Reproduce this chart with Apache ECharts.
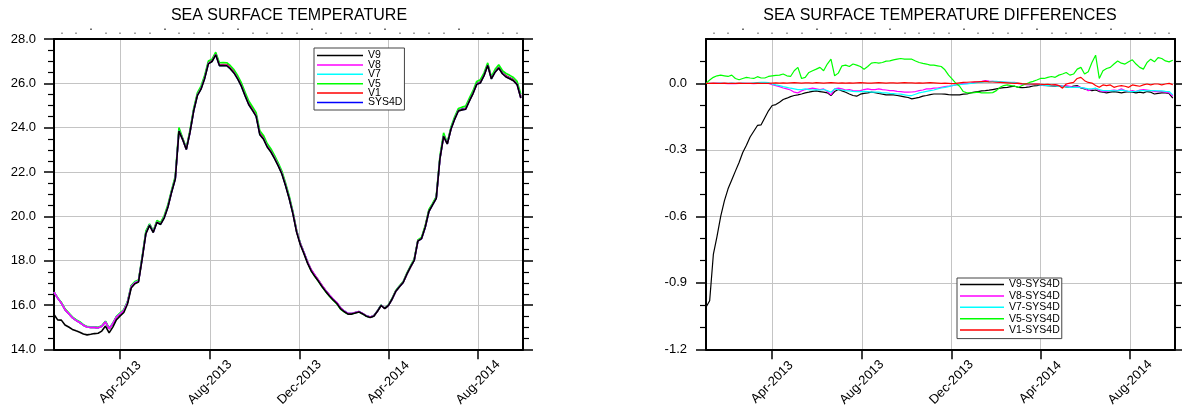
<!DOCTYPE html>
<html><head><meta charset="utf-8">
<script src="https://cdn.jsdelivr.net/npm/echarts@6/dist/echarts.min.js"></script>
<style>html,body{margin:0;padding:0;background:#fff}#c{width:1182px;height:409px}</style>
</head><body><div id="c"></div>
<script>
// ---------- data ----------
const START = '2013-01-01';
const END = '2014-10-01';
const STEP_DAYS = 5;
const tickDates = ['2013-04-01', '2013-08-01', '2013-12-01', '2014-04-01', '2014-08-01'];
const monthNames = ['Jan','Feb','Mar','Apr','May','Jun','Jul','Aug','Sep','Oct','Nov','Dec'];
const diffYLabels = [-1.2, -0.9, -0.6, -0.3, 0.0];
const diffYMinor = [-1.1, -1.0, -0.8, -0.7, -0.5, -0.4, -0.2, -0.1, 0.1];
const topMinorDays = [10,30,70,90,110,130,170,190,210,230,270,290,310,330,370,390,410,430,470,490,510,530,570,590,610,630];
const topMajorDays = [50,150,250,350,450,550];

const sys4d = [
16.58,16.31,16.09,15.79,15.61,15.43,15.31,15.21,
15.09,15.01,14.99,14.99,14.97,15.04,15.24,14.93,
15.16,15.46,15.61,15.76,16.13,16.84,17.03,17.10,
18.15,19.27,19.64,19.31,19.76,19.67,19.97,20.46,
21.13,21.73,23.90,23.50,23.04,23.82,24.79,25.49,
25.79,26.28,26.93,27.03,27.33,26.84,26.84,26.84,
26.70,26.51,26.24,25.91,25.49,25.09,24.84,24.57,
23.75,23.55,23.19,22.96,22.66,22.33,21.96,21.43,
20.84,20.16,19.34,18.78,18.37,17.93,17.58,17.33,
17.10,16.85,16.63,16.43,16.25,16.09,15.85,15.72,
15.61,15.61,15.66,15.70,15.61,15.51,15.46,15.51,
15.73,15.99,15.85,15.99,16.28,16.63,16.84,17.03,
17.40,17.73,18.03,18.90,19.01,19.52,20.24,20.54,
20.84,22.63,23.64,23.30,23.97,24.42,24.79,24.84,
24.87,25.24,25.58,25.99,26.06,26.39,26.85,26.24,
26.54,26.73,26.48,26.33,26.25,26.16,25.99,25.40];

const dV9 = [
-1.010,-0.981,-0.772,-0.690,-0.600,-0.530,-0.476,-0.436,
-0.396,-0.357,-0.312,-0.279,-0.242,-0.216,-0.190,-0.187,
-0.155,-0.124,-0.100,-0.096,-0.085,-0.073,-0.067,-0.060,
-0.055,-0.052,-0.048,-0.043,-0.040,-0.036,-0.034,-0.037,
-0.040,-0.043,-0.055,-0.037,-0.028,-0.034,-0.040,-0.048,
-0.055,-0.058,-0.049,-0.045,-0.043,-0.040,-0.042,-0.046,
-0.049,-0.052,-0.052,-0.052,-0.055,-0.058,-0.061,-0.064,
-0.070,-0.067,-0.063,-0.058,-0.055,-0.051,-0.048,-0.048,
-0.048,-0.049,-0.051,-0.052,-0.052,-0.052,-0.049,-0.048,
-0.043,-0.040,-0.037,-0.034,-0.033,-0.031,-0.028,-0.025,
-0.022,-0.019,-0.018,-0.015,-0.013,-0.018,-0.019,-0.018,
-0.016,-0.012,-0.010,-0.007,-0.009,-0.010,-0.012,-0.013,
-0.010,-0.013,-0.016,-0.018,-0.012,-0.010,-0.021,-0.025,
-0.030,-0.033,-0.030,-0.037,-0.040,-0.043,-0.040,-0.037,
-0.040,-0.043,-0.040,-0.037,-0.040,-0.043,-0.040,-0.043,
-0.037,-0.040,-0.048,-0.045,-0.043,-0.043,-0.046,-0.067];

const dV8 = [
0,0,0,0.001,0,0,-0.001,0,
-0.001,0,0,0,0,-0.001,0,0,
0.001,0,-0.006,-0.010,-0.015,-0.021,-0.025,-0.030,
-0.040,-0.043,-0.034,-0.028,-0.025,-0.022,-0.025,-0.028,
-0.025,-0.037,-0.052,-0.025,-0.022,-0.025,-0.030,-0.028,
-0.033,-0.034,-0.033,-0.028,-0.025,-0.028,-0.028,-0.025,
-0.028,-0.030,-0.033,-0.033,-0.036,-0.037,-0.040,-0.040,
-0.039,-0.037,-0.033,-0.030,-0.025,-0.025,-0.022,-0.021,
-0.018,-0.015,-0.013,-0.010,-0.007,-0.004,-0.001,0.000,
0.001,0.004,0.007,0.009,0.012,0.010,0.009,0.007,
0.007,0.004,0.004,0.003,0.004,-0.001,-0.004,-0.006,
-0.007,-0.004,-0.003,-0.007,-0.010,-0.007,-0.010,-0.007,
-0.010,-0.013,-0.010,-0.013,-0.018,-0.013,-0.018,-0.022,
-0.033,-0.028,-0.022,-0.033,-0.037,-0.037,-0.033,-0.030,
-0.033,-0.025,-0.033,-0.037,-0.033,-0.037,-0.030,-0.028,
-0.030,-0.033,-0.037,-0.036,-0.037,-0.040,-0.043,-0.058];

const dV7 = [
0,0,0,0,0.001,0,0,0.001,
0,0,0.001,0,0,0.002,0.003,0.004,
0.004,0.003,-0.003,-0.007,-0.010,-0.015,-0.018,-0.022,
-0.025,-0.028,-0.028,-0.025,-0.028,-0.030,-0.028,-0.030,
-0.028,-0.033,-0.040,-0.025,-0.028,-0.030,-0.033,-0.034,
-0.036,-0.037,-0.037,-0.036,-0.037,-0.040,-0.040,-0.040,
-0.043,-0.043,-0.045,-0.046,-0.048,-0.049,-0.052,-0.055,
-0.055,-0.049,-0.043,-0.040,-0.036,-0.033,-0.030,-0.025,
-0.021,-0.018,-0.015,-0.010,-0.007,-0.006,-0.004,-0.003,
0.000,0.001,0.004,0.004,0.007,0.007,0.009,0.009,
0.007,0.007,0.004,0.004,0.003,0.000,-0.001,-0.003,
-0.004,-0.004,-0.006,-0.007,-0.009,-0.010,-0.010,-0.012,
-0.013,-0.013,-0.016,-0.018,-0.018,-0.018,-0.019,-0.022,
-0.025,-0.025,-0.022,-0.028,-0.033,-0.033,-0.033,-0.034,
-0.033,-0.031,-0.033,-0.036,-0.037,-0.036,-0.033,-0.033,
-0.034,-0.033,-0.033,-0.034,-0.034,-0.036,-0.037,-0.052];

const dV5 = [
0.000,0.015,0.027,0.034,0.037,0.034,0.031,0.037,
0.022,0.016,0.022,0.027,0.024,0.022,0.030,0.024,
0.024,0.031,0.034,0.036,0.037,0.042,0.034,0.031,
0.057,0.072,0.022,0.027,0.049,0.057,0.064,0.072,
0.057,0.087,0.109,0.034,0.046,0.079,0.082,0.076,
0.087,0.082,0.076,0.064,0.076,0.091,0.094,0.091,
0.094,0.100,0.101,0.106,0.109,0.112,0.109,0.109,
0.109,0.101,0.094,0.090,0.087,0.082,0.082,0.079,
0.076,0.061,0.037,0.019,0.000,-0.013,-0.037,-0.043,
-0.043,-0.042,-0.040,-0.043,-0.043,-0.043,-0.042,-0.033,
-0.018,-0.010,-0.007,-0.010,-0.013,-0.018,-0.010,-0.003,
0.004,0.009,0.015,0.022,0.022,0.027,0.031,0.027,
0.037,0.042,0.049,0.037,0.042,0.064,0.072,0.042,
0.052,0.094,0.127,0.022,0.057,0.067,0.072,0.087,
0.101,0.091,0.087,0.097,0.106,0.087,0.072,0.064,
0.094,0.109,0.097,0.116,0.112,0.101,0.097,0.104];

const dV1 = [
0,0,0.001,0,0,0.001,0,0,
0,0.001,0,0,0,0,0.001,0,
0,0,0.001,0.002,0.001,0.002,0.001,0.002,
0.003,0.002,0.001,0.002,0.002,0.001,0.003,0.002,
0.001,0.002,0.003,0.002,0.001,0.002,0.001,0.002,
0.001,0.002,0.003,0.002,0.001,0.001,0.002,0.003,
0.002,0.001,0.002,0.002,0.001,0.002,0.003,0.002,
0.002,0.001,0.002,0.001,0.002,0.003,0.002,0.001,
0.000,0.001,0.000,-0.001,0.000,0.002,0.004,0.005,
0.006,0.007,0.007,0.008,0.009,0.007,0.006,0.005,
0.004,0.003,0.002,0.001,0.000,0.001,-0.001,-0.002,
-0.003,-0.004,-0.003,-0.004,-0.006,-0.004,-0.007,-0.006,
-0.010,-0.022,-0.003,0.001,0.004,0.022,0.027,0.012,
0.004,0.001,-0.010,-0.018,-0.007,-0.010,-0.007,-0.018,
-0.013,-0.010,-0.013,-0.018,-0.007,-0.010,-0.013,-0.007,
-0.003,-0.007,-0.003,-0.003,-0.007,-0.003,0.000,-0.006];

// ---------- build ----------
const DAY = 86400000;
const toT = s => Date.parse(s + 'T00:00:00Z');
const tMin = toT(START), tMax = toT(END);
const totalDays = (tMax - tMin) / DAY;
const tickTimes = tickDates.map(toT);
const times = sys4d.map((_, i) => tMin + i * STEP_DAYS * DAY);
const FONT = "'Liberation Sans', Arial, Helvetica, sans-serif";
const fmtDate = v => { const d = new Date(v); return monthNames[d.getUTCMonth()] + '-' + d.getUTCFullYear(); };
const pairs = arr => arr.map((v, i) => [times[i], v]);
const addTo = d => sys4d.map((v, i) => +(v + d[i]).toFixed(3));

const colors = { V9: '#000000', V8: '#ff00ff', V7: '#00ffff', V5: '#00ff00', V1: '#ff0000', SYS4D: '#0000ff' };
const leftValues = { V9: addTo(dV9), V8: addTo(dV8), V7: addTo(dV7), V5: addTo(dV5), V1: addTo(dV1), SYS4D: sys4d };
const rightValues = { 'V9-SYS4D': dV9, 'V8-SYS4D': dV8, 'V7-SYS4D': dV7, 'V5-SYS4D': dV5, 'V1-SYS4D': dV1 };

const black = { color: '#000', width: 2 };
function bottomX(g) {
  return { type: 'value', gridIndex: g, position: 'bottom', min: tMin, max: tMax,
    axisLine: { show: true, onZero: false, lineStyle: black },
    axisTick: { show: true, inside: false, length: 10, customValues: tickTimes, lineStyle: { color: '#000', width: 1.5 } },
    axisLabel: { show: true, customValues: tickTimes, rotate: 45, align: 'center', verticalAlign: 'middle', margin: 33,
      formatter: fmtDate, fontSize: 13, color: '#000', fontFamily: FONT },
    splitLine: { show: true, lineStyle: { color: '#c4c4c4', width: 1 } } };
}
function topFrame(g) {
  return { type: 'value', gridIndex: g, position: 'top', min: tMin, max: tMax,
    axisLine: { show: true, onZero: false, lineStyle: black },
    axisTick: { show: false }, axisLabel: { show: false }, splitLine: { show: false } };
}
function topDots(g, days, offset, color) {
  return { type: 'value', gridIndex: g, position: 'top', offset: offset, min: 0, max: totalDays,
    axisLine: { show: false, onZero: false },
    axisTick: { show: true, inside: false, length: 1.5, customValues: days, lineStyle: { color: color, width: 1.5 } },
    axisLabel: { show: false }, splitLine: { show: false } };
}
function yAx(g, pos, o) {
  return Object.assign({ type: 'value', gridIndex: g, position: pos,
    axisLine: { show: true, onZero: false, lineStyle: black },
    axisLabel: { show: false }, splitLine: { show: false } }, o);
}
const majorTick = { show: true, inside: false, length: 10, lineStyle: { color: '#000', width: 1.5 } };
const minorTickS = { show: true, inside: false, length: 6, lineStyle: { color: '#000', width: 1.2 } };
const labelStyle = { show: true, fontSize: 13, color: '#000', fontFamily: FONT, margin: 18 };
const gridStyle = { show: true, lineStyle: { color: '#c4c4c4', width: 1 } };

const series = [];
['SYS4D', 'V1', 'V5', 'V7', 'V8', 'V9'].forEach(n => series.push({
  type: 'line', name: n, xAxisIndex: 0, yAxisIndex: 0, data: pairs(leftValues[n]),
  showSymbol: false, symbol: 'none', animation: false, silent: true,
  lineStyle: { color: colors[n], width: 1.6 }, itemStyle: { color: colors[n] } }));
Object.keys(rightValues).forEach(n => {
  const c = colors[n.split('-')[0]];
  series.push({ type: 'line', name: n, xAxisIndex: 4, yAxisIndex: 2, data: pairs(rightValues[n]),
    showSymbol: false, symbol: 'none', animation: false, silent: true,
    lineStyle: { color: c, width: 1.2 }, itemStyle: { color: c } });
});

const legendBase = { orient: 'vertical', icon: 'rect', itemHeight: 1.5,
  backgroundColor: '#fff', borderColor: '#444', borderWidth: 1, selectedMode: false };

const option = {
  backgroundColor: '#fff',
  animation: false,
  title: [
    { text: 'SEA SURFACE TEMPERATURE', left: 289, top: 8, textAlign: 'center', padding: 0,
      textStyle: { fontSize: 16, fontWeight: 'normal', color: '#000', fontFamily: FONT } },
    { text: 'SEA SURFACE TEMPERATURE DIFFERENCES', left: 940, top: 8, textAlign: 'center', padding: 0,
      textStyle: { fontSize: 16, fontWeight: 'normal', color: '#000', fontFamily: FONT } }
  ],
  legend: [
    Object.assign({}, legendBase, { data: ['V9', 'V8', 'V7', 'V5', 'V1', 'SYS4D'], left: 314, top: 48,
      padding: [2, 2, 2, 3], itemWidth: 46, itemGap: -1.6,
      textStyle: { fontSize: 10.5, color: '#000', fontFamily: FONT } }),
    Object.assign({}, legendBase, { data: Object.keys(rightValues), left: 957, top: 278,
      padding: [1, 2, 3, 3], itemWidth: 44, itemGap: 0.4,
      textStyle: { fontSize: 10.5, color: '#000', fontFamily: FONT } })
  ],
  grid: [
    { left: 54, top: 39, width: 469, height: 312, containLabel: false },
    { left: 706, top: 39, width: 469, height: 312, containLabel: false }
  ],
  xAxis: [
    bottomX(0), topFrame(0), topDots(0, topMinorDays, 5, '#888'), topDots(0, topMajorDays, 9, '#444'),
    bottomX(1), topFrame(1), topDots(1, topMinorDays, 5, '#888'), topDots(1, topMajorDays, 9, '#444')
  ],
  yAxis: [
    yAx(0, 'left', { min: 14, max: 28, interval: 2, axisTick: majorTick,
      minorTick: Object.assign({ splitNumber: 4 }, minorTickS),
      axisLabel: Object.assign({ formatter: v => v.toFixed(1) }, labelStyle), splitLine: gridStyle }),
    yAx(0, 'right', { min: 14, max: 28, interval: 2, axisTick: majorTick,
      minorTick: Object.assign({ splitNumber: 4 }, minorTickS) }),
    yAx(1, 'left', { min: -1.2, max: 0.2,
      axisTick: Object.assign({ customValues: diffYLabels }, majorTick),
      axisLabel: Object.assign({ customValues: diffYLabels, formatter: v => v.toFixed(1) }, labelStyle, { margin: 19 }),
      splitLine: gridStyle }),
    yAx(1, 'left', { min: -1.2, max: 0.2, axisLine: { show: false, onZero: false },
      axisTick: Object.assign({ customValues: diffYMinor }, minorTickS) }),
    yAx(1, 'right', { min: -1.2, max: 0.2, axisTick: Object.assign({ customValues: diffYLabels }, majorTick) }),
    yAx(1, 'right', { min: -1.2, max: 0.2, axisLine: { show: false, onZero: false },
      axisTick: Object.assign({ customValues: diffYMinor }, minorTickS) })
  ],
  series: series
};
const chart = echarts.init(document.getElementById('c'), null, { renderer: 'canvas' });
chart.setOption(option);
</script></body></html>
